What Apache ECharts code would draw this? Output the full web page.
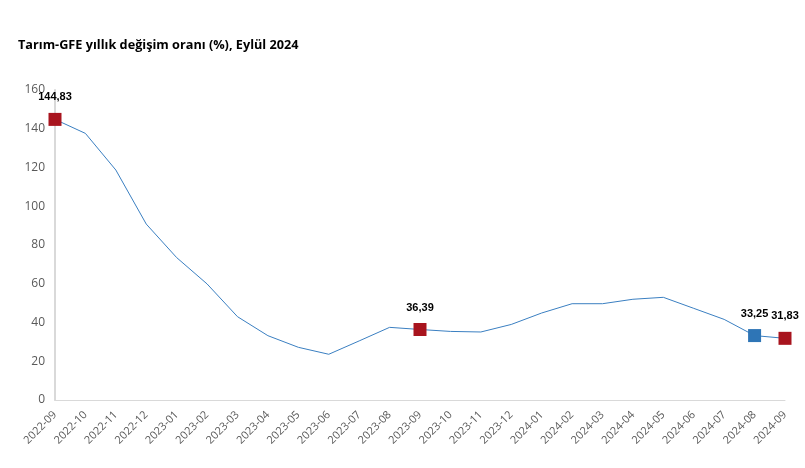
<!DOCTYPE html>
<html><head><meta charset="utf-8">
<script src="https://cdn.jsdelivr.net/npm/echarts@6/dist/echarts.min.js"></script>
<style>html,body{margin:0;padding:0;background:#fff}#c{width:805px;height:468px}</style>
</head><body><div id="c"></div>
<script>
var title = 'Tarım-GFE yıllık değişim oranı (%), Eylül 2024';
var categories = ['2022-09','2022-10','2022-11','2022-12','2023-01','2023-02','2023-03','2023-04','2023-05','2023-06','2023-07','2023-08','2023-09','2023-10','2023-11','2023-12','2024-01','2024-02','2024-03','2024-04','2024-05','2024-06','2024-07','2024-08','2024-09'];
var values = [144.83,137.6,118.7,90.8,73.5,59.9,43.0,33.2,27.2,23.6,30.5,37.5,36.39,35.4,35.1,39.0,44.9,49.7,49.7,52.0,53.0,47.3,41.6,33.25,31.83];
var redPoints = ['2022-09','2023-09','2024-09'];
var bluePoints = ['2024-08'];
var yTicks = [0,20,40,60,80,100,120,140,160];

function pts(list){ return list.map(function(c){ return [c, values[categories.indexOf(c)]]; }); }
function fmt(v){ return v.toFixed(2).replace('.', ','); }

var labelCfg = {show:true, position:'top', distance:10, color:'#000', fontFamily:'Liberation Sans', fontWeight:'bold', fontSize:11,
  formatter:function(p){ return fmt(p.value[1]); }};

var chart = echarts.init(document.getElementById('c'));
chart.setOption({
  animation:false,
  title:{text:title, left:13, top:34, textStyle:{fontFamily:'Open Sans', fontWeight:'bold', fontSize:12.7, color:'#000'}},
  grid:{left:55, right:20, top:90, bottom:68},
  xAxis:{type:'category', data:categories, boundaryGap:false,
    axisLine:{lineStyle:{color:'#d9d9d9'}}, axisTick:{show:false},
    axisLabel:{interval:0, rotate:45, color:'#595959', fontFamily:'Open Sans', fontSize:11, margin:13}},
  yAxis:{type:'value', min:yTicks[0], max:yTicks[yTicks.length-1], interval:20,
    axisLine:{show:true, lineStyle:{color:'#d9d9d9', width:2}}, axisTick:{show:false}, splitLine:{show:false},
    axisLabel:{color:'#595959', fontFamily:'Open Sans', fontSize:12, margin:10}},
  series:[
    {type:'line', data:values, symbol:'none', lineStyle:{color:'#3A7FC1', width:1}, z:2},
    {type:'scatter', data:pts(redPoints), symbol:'rect', symbolSize:13, itemStyle:{color:'#A8141E', opacity:1}, label:labelCfg, z:3},
    {type:'scatter', data:pts(bluePoints), symbol:'rect', symbolSize:13, itemStyle:{color:'#2E75B6', opacity:1}, label:labelCfg, z:3}
  ]
});
</script></body></html>
